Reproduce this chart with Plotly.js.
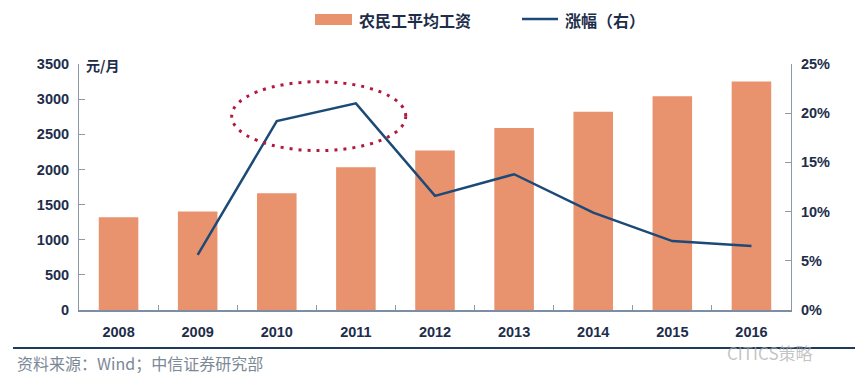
<!DOCTYPE html>
<html><head><meta charset="utf-8">
<script src="https://cdn.plot.ly/plotly-3.0.1.min.js"></script>
<style>html,body{margin:0;padding:0;background:#fff;}</style>
</head><body>
<div id="chart" style="width:855px;height:376px;"></div>
<script>
const years = ['2008','2009','2010','2011','2012','2013','2014','2015','2016'];
const wage = [1320, 1400, 1660, 2030, 2270, 2590, 2820, 3040, 3250];
const growthYears = ['2009','2010','2011','2012','2013','2014','2015','2016'];
const growth = [5.6, 19.2, 21.0, 11.6, 13.8, 9.9, 7.0, 6.5];
const barName = '农民工平均工资';
const lineName = '涨幅（右）';
const unitLabel = '元/月';
const sourceText = '资料来源：Wind；中信证券研究部';
const watermark = 'CITICS策略';

const navy = '#1d2d4a';
const barColor = '#E8926E';
const lineColor = '#1c4a78';
const axisColor = '#8d99a6';
const tickFont = {family: 'Liberation Sans, Arial, sans-serif', size: 14.5, color: navy, weight: 'bold'};
const cjk = 'Noto Sans CJK SC, sans-serif';

const traces = [
  {type: 'bar', x: years, y: wage, name: barName, marker: {color: barColor}, width: 0.5, yaxis: 'y'},
  {type: 'scatter', mode: 'lines', x: growthYears, y: growth, name: lineName, yaxis: 'y2',
   line: {color: lineColor, width: 2.5}}
];

const layout = {
  width: 855, height: 376,
  margin: {l: 79, r: 64, t: 64, b: 66},
  paper_bgcolor: '#fff', plot_bgcolor: '#fff',
  showlegend: false,
  xaxis: {type: 'category', showline: true, linecolor: '#7d8ea2', linewidth: 1.5,
    ticks: 'inside', tickson: 'boundaries', ticklen: 5, tickcolor: axisColor,
    showgrid: false, zeroline: false, tickfont: tickFont, ticklabelstandoff: 8},
  yaxis: {range: [0, 3500], dtick: 500, showline: true, linecolor: axisColor, linewidth: 1,
    ticks: 'inside', ticklen: 6, tickcolor: axisColor, showgrid: false, zeroline: false,
    tickfont: tickFont, ticklabelstandoff: 6},
  yaxis2: {range: [0, 25], dtick: 5, ticksuffix: '%', overlaying: 'y', side: 'right',
    showline: true, linecolor: axisColor, linewidth: 1, ticks: 'inside', ticklen: 6,
    tickcolor: axisColor, showgrid: false, zeroline: false, tickfont: tickFont, ticklabelstandoff: 6},
  shapes: [
    {type: 'rect', xref: 'paper', yref: 'paper', x0: (315-79)/712, x1: (352-79)/712,
     y0: (310-25)/246, y1: (310-14)/246, fillcolor: barColor, line: {width: 0}},
    {type: 'line', xref: 'paper', yref: 'paper', x0: (522-79)/712, x1: (558-79)/712,
     y0: (310-19)/246, y1: (310-19)/246, line: {color: lineColor, width: 2.5}},
    {type: 'circle', xref: 'x', yref: 'y2', x0: 1.43, x1: 3.63, y0: 16.2, y1: 23.2,
     line: {color: '#b3173d', width: 3, dash: '3px,6px'}},
    {type: 'line', xref: 'paper', yref: 'paper', x0: (13-79)/712, x1: (855-79)/712,
     y0: (310-348)/246, y1: (310-348)/246, line: {color: '#1f3a5a', width: 2}}
  ],
  annotations: [
    {xref: 'paper', yref: 'paper', x: (357-79)/712, y: (310-20)/246, xanchor: 'left', yanchor: 'middle',
     text: barName, showarrow: false, font: {family: cjk, size: 16, color: navy, weight: 'bold'}},
    {xref: 'paper', yref: 'paper', x: (563-79)/712, y: (310-20)/246, xanchor: 'left', yanchor: 'middle',
     text: lineName, showarrow: false, font: {family: cjk, size: 16, color: navy, weight: 'bold'}},
    {xref: 'paper', yref: 'paper', x: (84-79)/712, y: (310-65)/246, xanchor: 'left', yanchor: 'middle',
     text: unitLabel, showarrow: false, font: {family: cjk, size: 14, color: navy, weight: 'bold'}},
    {xref: 'paper', yref: 'paper', x: (15-79)/712, y: (310-363)/246, xanchor: 'left', yanchor: 'middle',
     text: sourceText, showarrow: false, font: {family: cjk, size: 16, color: '#7b8896'}},
    {xref: 'paper', yref: 'paper', x: (725-79)/712, y: (310-352)/246, xanchor: 'left', yanchor: 'middle',
     text: watermark, showarrow: false, font: {family: cjk, size: 17, color: 'rgba(170,170,170,0.7)'}}
  ]
};

Plotly.newPlot('chart', traces, layout, {staticPlot: true, displayModeBar: false});
</script>
</body></html>
